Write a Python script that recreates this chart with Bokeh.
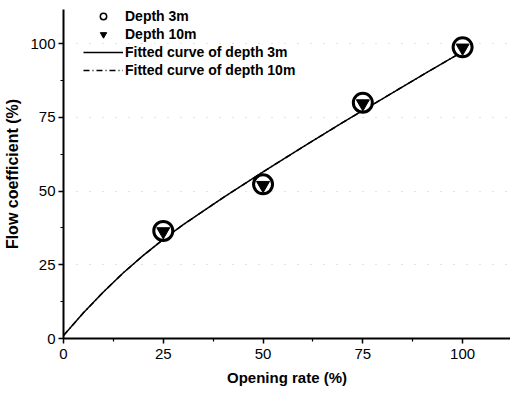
from bokeh.plotting import figure
from bokeh.models import ColumnDataSource, Range1d, FixedTicker, Legend, LegendItem
from bokeh.embed import file_html
from bokeh.resources import INLINE

# ---- data ----
opening = [25, 50, 75, 100]
depth3 = [36.5, 52.3, 80.0, 98.8]
depth10 = [36.3, 52.0, 79.7, 98.6]
fit_x = [0, 5, 10, 15, 20, 25, 30, 40, 50, 60, 70, 80, 90, 100]
fit3 = [1, 8.7, 15.8, 22.3, 28.2, 33.6, 38.6, 47.8, 56.5, 65, 73.3, 81.4, 89.4, 97.3]
fit10 = [1, 8.7, 15.8, 22.3, 28.2, 33.6, 38.6, 47.8, 56.5, 65, 73.3, 81.4, 89.4, 97.3]
major_ticks = [0, 25, 50, 75, 100]
minor_ticks = [12.5, 37.5, 62.5, 87.5]
legend_dummy = [float("nan")]

FONT = "Liberation Sans"

p = figure(width=510, height=393, output_backend="svg", toolbar_location=None,
           x_range=Range1d(0, 112), y_range=Range1d(0, 111.6),
           min_border_left=63, min_border_right=0, min_border_top=9, min_border_bottom=55)
p.outline_line_color = None
p.background_fill_color = "white"
p.border_fill_color = "white"

# grid: sparse faint dots
p.xgrid.grid_line_color = None
p.ygrid.grid_line_color = "#c8c8c8"
p.ygrid.grid_line_dash = "1 12"
p.ygrid.grid_line_width = 1

for ax in (p.xaxis[0], p.yaxis[0]):
    ax.ticker = FixedTicker(ticks=major_ticks, minor_ticks=minor_ticks)
    ax.axis_line_width = 2
    ax.axis_line_color = "black"
    ax.major_tick_line_color = "black"
    ax.major_tick_line_width = 1.5
    ax.major_tick_out = 5
    ax.major_tick_in = 0
    ax.minor_tick_line_color = "black"
    ax.minor_tick_line_width = 1.2
    ax.minor_tick_out = 3
    ax.minor_tick_in = 0
    ax.major_label_text_font = FONT
    ax.major_label_text_font_size = "15px"
    ax.major_label_text_color = "black"
    ax.axis_label_text_font = FONT
    ax.axis_label_text_font_style = "bold"
    ax.axis_label_text_color = "black"

p.xaxis.axis_label = "Opening rate (%)"
p.yaxis.axis_label = "Flow coefficient (%)"
p.xaxis.axis_label_text_font_size = "15px"
p.yaxis.axis_label_text_font_size = "16px"
p.xaxis.major_label_standoff = 5
p.xaxis.axis_label_standoff = 7
p.yaxis.major_label_standoff = 3
p.yaxis.axis_label_standoff = 6

# fitted curves
l10 = p.line(fit_x, fit10, line_color="black", line_width=1.5, line_dash="6 3 1 3")
l3 = p.line(fit_x, fit3, line_color="black", line_width=1.5)

# data markers (circle with triangle inside)
src3 = ColumnDataSource(dict(x=opening, y=depth3))
src10 = ColumnDataSource(dict(x=opening, y=depth10))
p.scatter("x", "y", source=src3, marker="circle", size=19, fill_color="white",
          line_color="black", line_width=3)
p.scatter("x", "y", source=src10, marker="inverted_triangle", size=13,
          fill_color="black", line_color="black", line_width=1)

# legend-only renderers (no visible points)
lg3 = p.scatter(legend_dummy, legend_dummy, marker="circle", fill_color="white",
                line_color="black", line_width=1.5)
lg10 = p.scatter(legend_dummy, legend_dummy, marker="inverted_triangle",
                 fill_color="black", line_color="black", line_width=1)

legend = Legend(items=[
    LegendItem(label="Depth 3m", renderers=[lg3]),
    LegendItem(label="Depth 10m", renderers=[lg10]),
    LegendItem(label="Fitted curve of depth 3m", renderers=[l3]),
    LegendItem(label="Fitted curve of depth 10m", renderers=[l10]),
], location=(20, 260))
legend.border_line_color = None
legend.background_fill_alpha = 0
legend.padding = 0
legend.margin = 0
legend.spacing = 2
legend.glyph_width = 40
legend.glyph_height = 16
legend.label_height = 16
legend.label_standoff = 2
legend.label_text_font = FONT
legend.label_text_font_style = "bold"
legend.label_text_font_size = "14px"
legend.label_text_color = "black"
p.add_layout(legend, "center")

open("out.html", "w").write(file_html(p, INLINE))
